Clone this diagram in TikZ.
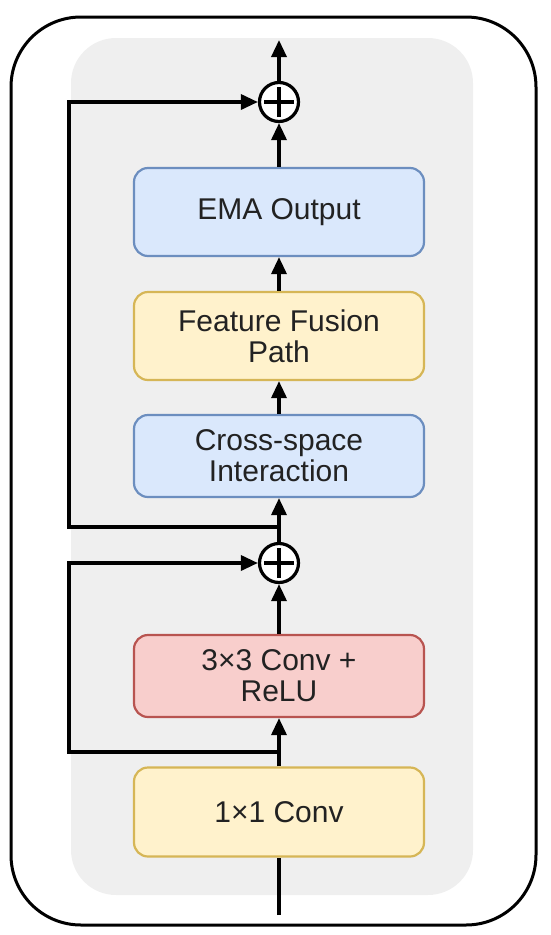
\documentclass[tikz,border=0pt]{standalone}
\usepackage{fontspec}
\setmainfont{Liberation Sans}
\usetikzlibrary{arrows.meta}
\definecolor{blueF}{HTML}{DAE8FC}
\definecolor{blueD}{HTML}{6C8EBF}
\definecolor{yelF}{HTML}{FFF2CC}
\definecolor{yelD}{HTML}{D6B656}
\definecolor{redF}{HTML}{F8CECC}
\definecolor{redD}{HTML}{B85450}
\definecolor{bgGray}{HTML}{EFEFEF}
\definecolor{txt}{HTML}{222222}
\begin{document}
\begin{tikzpicture}[x=1pt,y=-1pt,
  blk/.style={draw, line width=2.2pt, rounded corners=14pt, minimum width=290pt,
    align=center, text=txt, font=\fontsize{30}{31}\selectfont},
  bluebox/.style={blk, fill=blueF, draw=blueD},
  yelbox/.style={blk, fill=yelF, draw=yelD},
  redbox/.style={blk, fill=redF, draw=redD},
  conn/.style={line width=3.4pt, -{Triangle[length=17pt,width=15pt]}},
  plainline/.style={line width=3.4pt},
  sumnode/.style={circle, draw, line width=3.2pt, fill=white, minimum size=39pt, inner sep=0pt},
  plusbar/.style={line width=3.2pt}]
\useasboundingbox (0,0) rectangle (550,935);
% frames
\draw[line width=3pt, rounded corners=70pt] (11,17) rectangle (536,925);
\fill[bgGray, rounded corners=45pt] (71,38) rectangle (473,895);
% blocks
\node[bluebox, minimum height=88pt] (ema) at (279,212) {EMA Output};
\node[yelbox, minimum height=88pt] (ffp) at (279,336) {Feature Fusion\\Path};
\node[bluebox, minimum height=82pt] (csi) at (279,456) {Cross-space\\Interaction};
\node[redbox, minimum height=82pt] (conv3) at (279,676) {3×3 Conv +\\ReLU};
\node[yelbox, minimum height=89pt] (conv1) at (279,812) {1×1 Conv};
% sums
\node[sumnode] (s1) at (279,102) {};
\node[sumnode] (s2) at (279,563) {};
\foreach \s in {s1,s2}{
  \draw[plusbar] ([xshift=-15pt]\s.center) -- ([xshift=15pt]\s.center);
  \draw[plusbar] ([yshift=-15pt]\s.center) -- ([yshift=15pt]\s.center);
}
% coordinates
\coordinate (out) at (279,40);
\coordinate (in) at (279,915);
\coordinate (b1) at (279,752);
\coordinate (b1l) at (69,752);
\coordinate (b2) at (279,527);
\coordinate (b2l) at (69,527);
% connectors
\draw[plainline] (in) -- (conv1);
\draw[conn] (conv1) -- (conv3);
\draw[conn] (b1) -- (b1l) |- (s2);
\draw[conn] (conv3) -- (s2);
\draw[conn] (s2) -- (csi);
\draw[conn] (b2) -- (b2l) |- (s1);
\draw[conn] (csi) -- (ffp);
\draw[conn] (ffp) -- (ema);
\draw[conn] (ema) -- (s1);
\draw[conn] (s1) -- (out);
\end{tikzpicture}
\end{document}
